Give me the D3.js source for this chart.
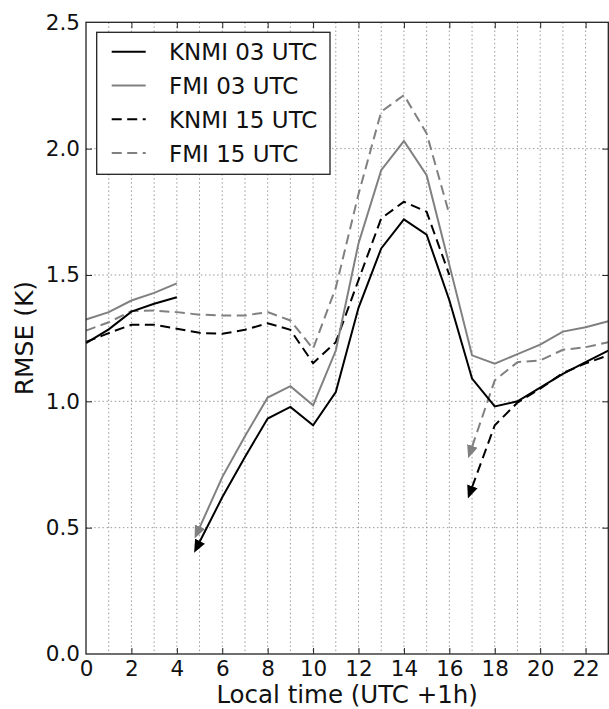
<!DOCTYPE html>
<html>
<head>
<meta charset="utf-8">
<script src="https://cdn.jsdelivr.net/npm/d3@7"></script>
<style>
  html, body { margin: 0; padding: 0; background: #fff; }
  svg { display: block; font-family: "DejaVu Sans", sans-serif; }
</style>
</head>
<body>
<svg id="chart" width="609" height="709"></svg>
<script>
// Hourly RMSE (K) by local time, 0..23 h
const hours = d3.range(0, 24);
const knmi03 = [1.23, 1.285, 1.355, 1.386, 1.412, 0.443, 0.62, 0.78, 0.932, 0.978, 0.905, 1.037,
                1.37, 1.605, 1.72, 1.66, 1.40, 1.09, 0.98, 1.0, 1.054, 1.109, 1.155, 1.201];
const fmi03  = [1.324, 1.353, 1.399, 1.429, 1.467, 0.50, 0.70, 0.862, 1.015, 1.06, 0.984, 1.201,
                1.625, 1.915, 2.03, 1.895, 1.54, 1.182, 1.149, 1.187, 1.224, 1.276, 1.293, 1.317];
const knmi15 = [1.235, 1.27, 1.303, 1.303, 1.287, 1.271, 1.267, 1.283, 1.309, 1.283, 1.151, 1.234,
                1.48, 1.724, 1.79, 1.75, 1.50, 0.66, 0.905, 0.995, 1.05, 1.112, 1.15, 1.182];
const fmi15  = [1.28, 1.313, 1.357, 1.359, 1.353, 1.343, 1.34, 1.34, 1.353, 1.32, 1.208, 1.45,
                1.82, 2.146, 2.212, 2.06, 1.74, 0.82, 1.083, 1.155, 1.162, 1.204, 1.214, 1.234];

// Forecast runs: 03 UTC starts at 05 local, 15 UTC starts at 17 local
const seriesNames = ["KNMI 03 UTC", "FMI 03 UTC", "KNMI 15 UTC", "FMI 15 UTC"];
const seriesValues = [knmi03, fmi03, knmi15, fmi15];
const seriesStart = [5, 5, 17, 17];
const seriesColor = ["#000000", "#808080", "#000000", "#808080"];
const seriesDash = [null, null, "10,5.5", "10,5.5"];

const xTicks = d3.range(0, 23, 2);
const yTicks = [0.0, 0.5, 1.0, 1.5, 2.0, 2.5];
const xLabel = "Local time (UTC +1h)";
const yLabel = "RMSE (K)";

const svg = d3.select("#chart");
const plotL = 86, plotR = 608.3, plotT = 22.3, plotB = 654;
const x = d3.scaleLinear().domain([0, 23]).range([plotL, plotR]);
const y = d3.scaleLinear().domain([0, 2.5]).range([plotB, plotT]);

// Dotted grid
const grid = svg.append("g").attr("stroke", "#9a9a9a").attr("stroke-width", 1)
  .attr("stroke-dasharray", "1.5,2.6");
grid.selectAll("line.v").data(d3.range(1, 23)).join("line").attr("class", "v")
  .attr("x1", d => x(d)).attr("x2", d => x(d)).attr("y1", plotT).attr("y2", plotB);
grid.selectAll("line.h").data([0.5, 1.0, 1.5, 2.0]).join("line").attr("class", "h")
  .attr("x1", plotL).attr("x2", plotR).attr("y1", d => y(d)).attr("y2", d => y(d));

// Arrowhead markers
const defs = svg.append("defs");
["#000000", "#808080"].forEach((c, i) => {
  defs.append("marker")
    .attr("id", "arrow" + i)
    .attr("viewBox", "0 -6 13 12")
    .attr("refX", 13).attr("refY", 0)
    .attr("markerWidth", 13).attr("markerHeight", 12)
    .attr("markerUnits", "userSpaceOnUse")
    .attr("orient", "auto")
    .append("path")
    .attr("d", "M0,-5.5L13,0L0,5.5Z")
    .attr("fill", c).attr("stroke", "none");
});

const line = d3.line().x(d => x(d[0])).y(d => y(d[1]));

// Draw in order: dashed first, then solid
[3, 2, 1, 0].forEach(i => {
  const vals = seriesValues[i];
  const s = seriesStart[i];
  const early = hours.filter(h => h < s).map(h => [h, vals[h]]);
  const late = hours.filter(h => h >= s).map(h => [h, vals[h]]);
  const g = svg.append("g").attr("fill", "none")
    .attr("stroke", seriesColor[i]).attr("stroke-width", 2)
    .attr("stroke-linejoin", "miter");
  if (seriesDash[i]) g.attr("stroke-dasharray", seriesDash[i]);
  g.append("path").attr("d", line(early));
  g.append("path").attr("d", line(late));
  // Arrowhead pointing back from the first hour of the run
  const p0 = late[0], p1 = late[1];
  const dx = x(p0[0]) - x(p1[0]), dy = y(p0[1]) - y(p1[1]);
  const len = Math.hypot(dx, dy);
  const ext = 12;
  svg.append("path")
    .attr("d", `M${x(p0[0])},${y(p0[1])}L${x(p0[0]) + dx / len * ext},${y(p0[1]) + dy / len * ext}`)
    .attr("stroke", "none").attr("fill", "none")
    .attr("marker-end", `url(#arrow${seriesColor[i] === "#000000" ? 0 : 1})`);
});

// Axes with inward ticks
const fontSize = 21.5;
const axB = svg.append("g").attr("transform", `translate(0,${plotB})`)
  .call(d3.axisBottom(x).tickValues(xTicks).tickSize(-6).tickPadding(6.5).tickFormat(d3.format("d")));
const axL = svg.append("g").attr("transform", `translate(${plotL},0)`)
  .call(d3.axisLeft(y).tickValues(yTicks).tickSize(-6).tickPadding(6).tickFormat(d3.format(".1f")));
const axT = svg.append("g").attr("transform", `translate(0,${plotT})`)
  .call(d3.axisTop(x).tickValues(xTicks).tickSize(-6).tickFormat(""));
const axR = svg.append("g").attr("transform", `translate(${plotR},0)`)
  .call(d3.axisRight(y).tickValues(yTicks).tickSize(-6).tickFormat(""));
[axB, axL, axT, axR].forEach(a => {
  a.select(".domain").remove();
  a.selectAll(".tick line").attr("stroke", "#222").attr("stroke-width", 1);
  a.selectAll(".tick text").attr("font-size", fontSize).attr("fill", "#111")
    .attr("font-family", "DejaVu Sans");
});
axL.selectAll(".tick").filter(d => d === 2.5 || d === 0).select("line").remove();
axR.selectAll(".tick").filter(d => d === 2.5 || d === 0).select("line").remove();
axB.selectAll(".tick").filter(d => d === 0).select("line").remove();
axT.selectAll(".tick").filter(d => d === 0).select("line").remove();

// Frame
svg.append("rect").attr("x", plotL).attr("y", plotT)
  .attr("width", plotR - plotL).attr("height", plotB - plotT)
  .attr("fill", "none").attr("stroke", "#222").attr("stroke-width", 1.3);

// Axis titles
svg.append("text").attr("x", (plotL + plotR) / 2).attr("y", 702.8)
  .attr("text-anchor", "middle").attr("font-size", 24.5).attr("fill", "#111").text(xLabel);
svg.append("text").attr("transform", `translate(33,${(plotT + plotB) / 2}) rotate(-90)`)
  .attr("text-anchor", "middle").attr("font-size", 25).attr("fill", "#111").text(yLabel);

// Legend
const lg = svg.append("g");
lg.append("rect").attr("x", 96.7).attr("y", 32.3).attr("width", 233.3).attr("height", 142)
  .attr("fill", "#fff").attr("stroke", "#222").attr("stroke-width", 1.3);
seriesNames.forEach((name, i) => {
  const ry = 51.7 + 33.8 * i;
  const l = lg.append("line").attr("x1", 111.7).attr("x2", 145.7).attr("y1", ry).attr("y2", ry)
    .attr("stroke", seriesColor[i]).attr("stroke-width", 2);
  if (seriesDash[i]) l.attr("stroke-dasharray", seriesDash[i]);
  lg.append("text").attr("x", 169).attr("y", ry + 8.4).attr("font-size", 23)
    .attr("fill", "#111").text(name);
});
</script>
</body>
</html>
